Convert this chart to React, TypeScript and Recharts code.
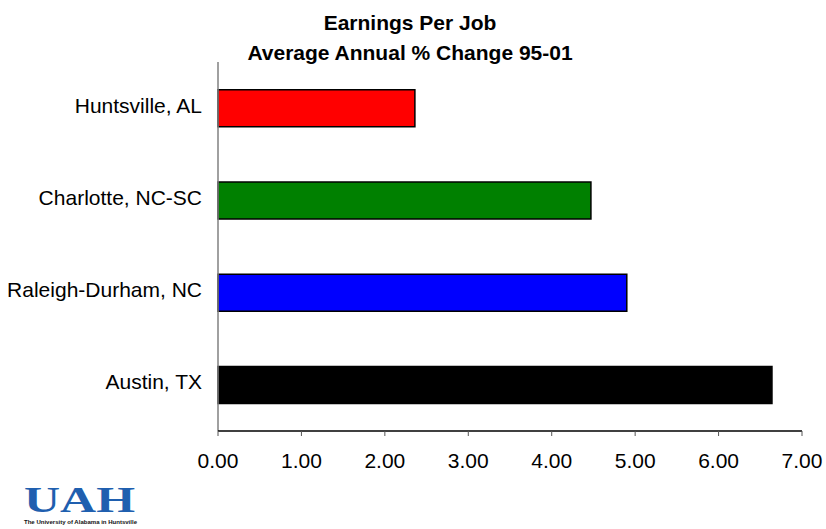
import { BarChart, Bar, XAxis, YAxis, Cell, ReferenceLine } from 'recharts'

// ── Data ────────────────────────────────────────────────────────────────────

const metros = ['Huntsville, AL', 'Charlotte, NC-SC', 'Raleigh-Durham, NC', 'Austin, TX']
const pctChange = [2.36, 4.47, 4.9, 6.64]
const barColors = ['#FF0000', '#008000', '#0000FF', '#000000']
const xTicks = [0, 1, 2, 3, 4, 5, 6, 7]
const bandEdges = [0, 1, 2, 3, 4]

const titleLines = ['Earnings Per Job', 'Average Annual % Change 95-01']

const data = metros.map((name, i) => ({ name, value: pctChange[i] }))

const FONT = 'Arial, "Liberation Sans", sans-serif'

// category label, nudged up a little like the original
// eslint-disable-next-line @typescript-eslint/no-explicit-any
const MetroTick = ({ x, y, payload }: any) => (
  <text x={x} y={y - 3} dy="0.355em" textAnchor="end" fill="#000" fontSize={21} fontFamily={FONT}>
    {payload.value}
  </text>
)

export default function App() {
  return (
    <div style={{ position: 'absolute', left: 0, top: 0, width: 826, height: 529, background: '#fff', fontFamily: FONT }}>
      <BarChart
        width={826}
        height={529}
        data={data}
        layout="vertical"
        margin={{ top: 62, right: 24, bottom: 68, left: 0 }}
        barCategoryGap="30%"
      >
        {/* band edges: draws the y axis line and the ticks between categories */}
        <YAxis
          yAxisId="a"
          type="number"
          domain={[0, 4]}
          ticks={bandEdges}
          width={1}
          tick={false}
          tickSize={7}
          stroke="#808080"
          axisLine={{ strokeWidth: 1.5 }}
          tickLine={{ stroke: '#444', strokeWidth: 1.2 }}
        />
        <YAxis
          yAxisId="b"
          type="category"
          dataKey="name"
          width={217}
          axisLine={false}
          tickLine={false}
          tickSize={0}
          tickMargin={15}
          tick={<MetroTick />}
        />
        <XAxis
          type="number"
          domain={[0, 7]}
          ticks={xTicks}
          tickFormatter={(v: number) => v.toFixed(2)}
          axisLine={{ stroke: '#000', strokeWidth: 1.5 }}
          tickLine={{ stroke: '#555' }}
          tickSize={5}
          tickMargin={17}
          tick={{ fill: '#000', fontSize: 21, fontFamily: FONT }}
        />
        {/* bottom axis line along the lower band edge (edge axis runs top→bottom) */}
        <ReferenceLine y={4} yAxisId="a" stroke="#000" strokeWidth={1.5} />
        <Bar dataKey="value" yAxisId="b" stroke="#000" strokeWidth={1.5} isAnimationActive={false}>
          {data.map((d, i) => (
            <Cell key={d.name} fill={barColors[i]} />
          ))}
        </Bar>
      </BarChart>

      <div style={{ position: 'absolute', left: 0, top: 8, width: 820, textAlign: 'center', fontWeight: 'bold', fontSize: 21, lineHeight: '29.5px', color: '#000' }}>
        {titleLines.map((t) => (
          <div key={t}>{t}</div>
        ))}
      </div>

      <svg style={{ position: 'absolute', left: 0, top: 0 }} width={826} height={529}>
        <text x={24} y={512} fontFamily='"Liberation Serif", "DejaVu Serif", serif' fontWeight="bold" fontSize={36} fill="#1F5FAF" textLength={111} lengthAdjust="spacingAndGlyphs">
          UAH
        </text>
        <text x={24} y={524} fontFamily={FONT} fontWeight="bold" fontSize={5} fill="#111" textLength={113} lengthAdjust="spacingAndGlyphs">
          The University of Alabama in Huntsville
        </text>
      </svg>
    </div>
  )
}
